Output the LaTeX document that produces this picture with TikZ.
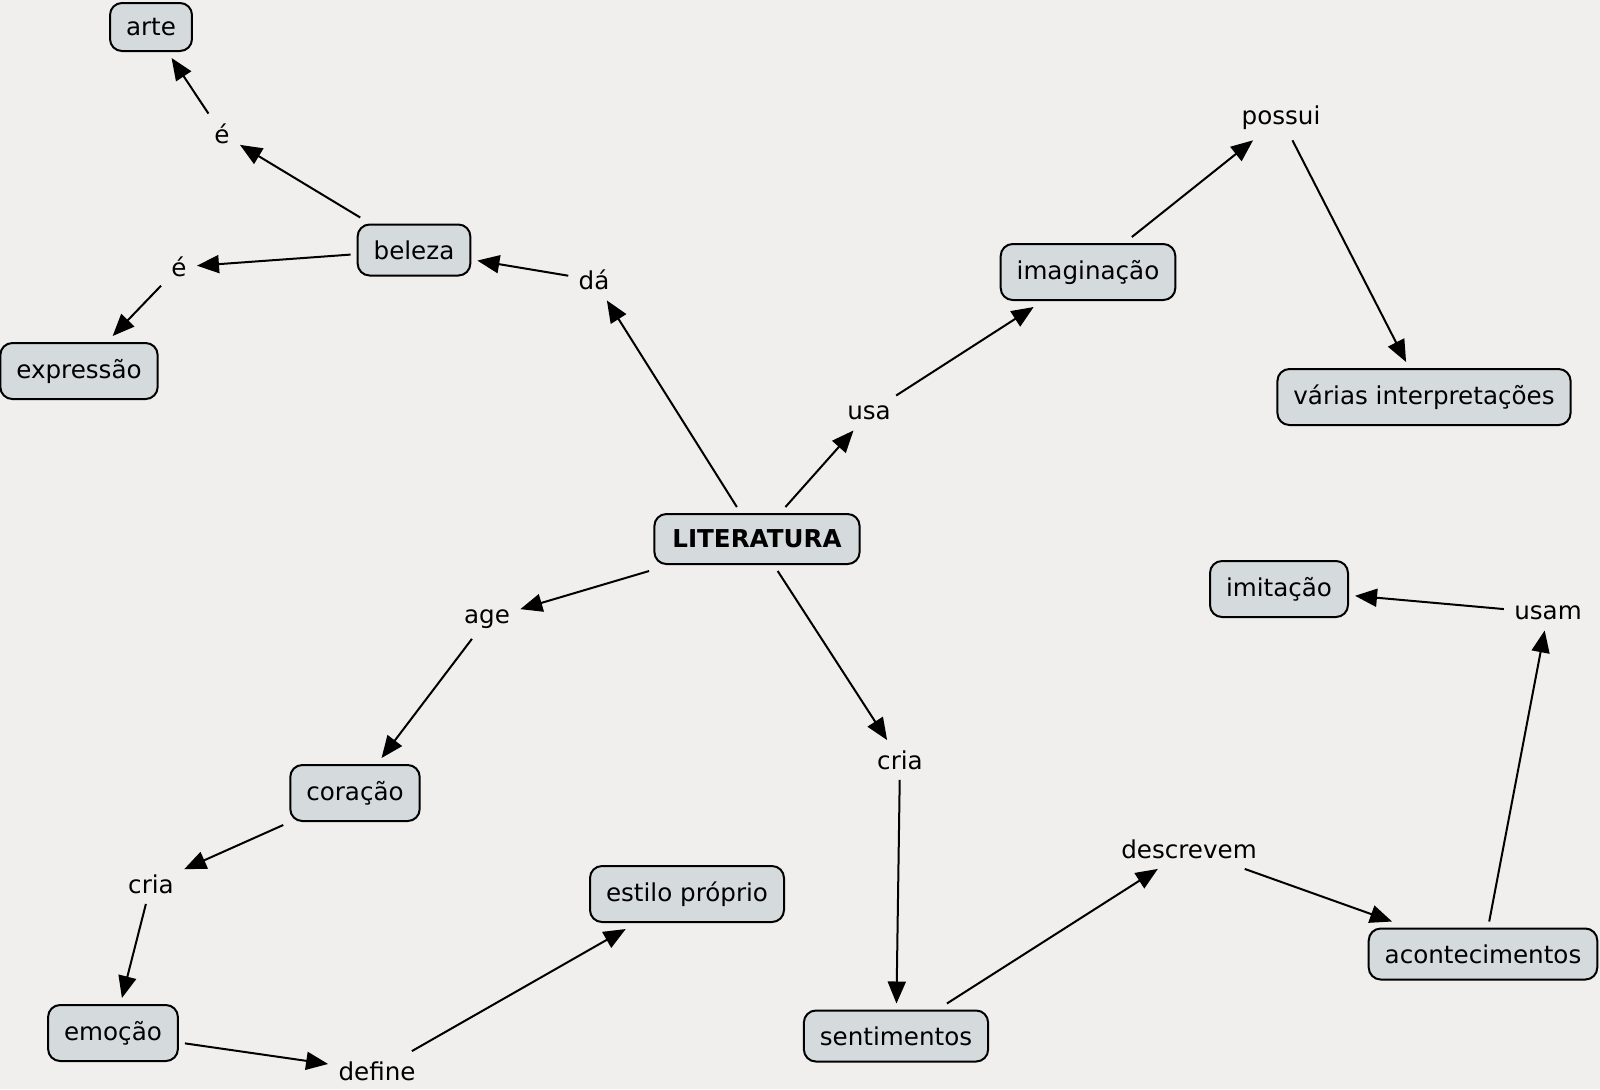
\documentclass[tikz,border=0pt]{standalone}
\usepackage{fontspec}
\setmainfont{DejaVu Sans}
\usepackage{xcolor}
\usetikzlibrary{arrows.meta}

\definecolor{paper}{HTML}{F0EFED}
\definecolor{boxfill}{HTML}{D5DBDD}

\begin{document}
\begin{tikzpicture}[
  x=0.5pt, y=-0.5pt,
  every node/.style={font=\fontsize{12.3}{14}\selectfont},
  concept/.style={draw, fill=boxfill, line width=1pt, rounded corners=6pt,
                  inner xsep=8pt, minimum height=28pt, outer sep=3.5pt},
  link/.style={inner xsep=5pt, inner ysep=5pt},
  arrow/.style={-{Triangle[length=11pt, width=9pt]}, line width=1pt}
]
\fill[paper] (0,0) rectangle (1600,1089);
\useasboundingbox (0,0) rectangle (1600,1089);

% concepts
\node[concept, minimum height=24pt] (arte)   at (151,27)  {arte};
\node[concept, minimum height=25.5pt] (beleza) at (414,250) {beleza};
\node[concept] (expressao)  at (79,371)   {expressão};
\node[concept] (imaginacao) at (1088,272) {imaginação};
\node[concept] (varias)     at (1424,397) {várias interpretações};
\node[concept, minimum height=25pt, inner xsep=9pt, font=\fontsize{12.3}{14}\selectfont\bfseries] (lit) at (757,539) {LITERATURA};
\node[concept] (imitacao)   at (1279,589) {imitação};
\node[concept] (coracao)    at (355,793)  {coração};
\node[concept] (estilo)     at (687,894)  {estilo próprio};
\node[concept] (emocao)     at (113,1033) {emoção};
\node[concept, minimum height=25.5pt] (sentimentos)    at (896,1036) {sentimentos};
\node[concept, minimum height=25.5pt] (acontecimentos) at (1483,954) {acontecimentos};

% linking phrases
\node[link] (eA)        at (222,134)  {é};
\node[link] (eB)        at (179,267)  {é};
\node[link] (da)        at (594,280)  {dá};
\node[link] (possui)    at (1281,118) {possui};
\node[link] (usa)       at (869,413)  {usa};
\node[link] (age)       at (487,619)  {age};
\node[link] (criaB)     at (900,760)  {cria};
\node[link] (usam)      at (1548,613) {usam};
\node[link] (criaA)     at (151,884)  {cria};
\node[link] (descrevem) at (1189,849) {descrevem};
\node[link] (define)    at (377,1071) {define};

% connections
\draw[arrow] (lit) -- (da);
\draw[arrow] (da) -- (beleza);
\draw[arrow] (beleza) -- (eA);
\draw[arrow] (eA) -- (arte);
\draw[arrow] (beleza) -- (eB);
\draw[arrow] (eB) -- (expressao);
\draw[arrow] (lit) -- (usa);
\draw[arrow] (usa) -- (imaginacao);
\draw[arrow] (imaginacao) -- (possui);
\draw[arrow] (possui) -- (varias);
\draw[arrow] (lit) -- (age);
\draw[arrow] (age) -- (coracao);
\draw[arrow] (coracao) -- (criaA);
\draw[arrow] (criaA) -- (emocao);
\draw[arrow] (emocao) -- (define);
\draw[arrow] (define) -- (estilo);
\draw[arrow] (lit) -- (criaB);
\draw[arrow] (criaB) -- (sentimentos);
\draw[arrow] (sentimentos) -- (descrevem);
\draw[arrow] (descrevem) -- (acontecimentos);
\draw[arrow] (acontecimentos) -- (usam);
\draw[arrow] (usam) -- (imitacao);
\end{tikzpicture}
\end{document}
